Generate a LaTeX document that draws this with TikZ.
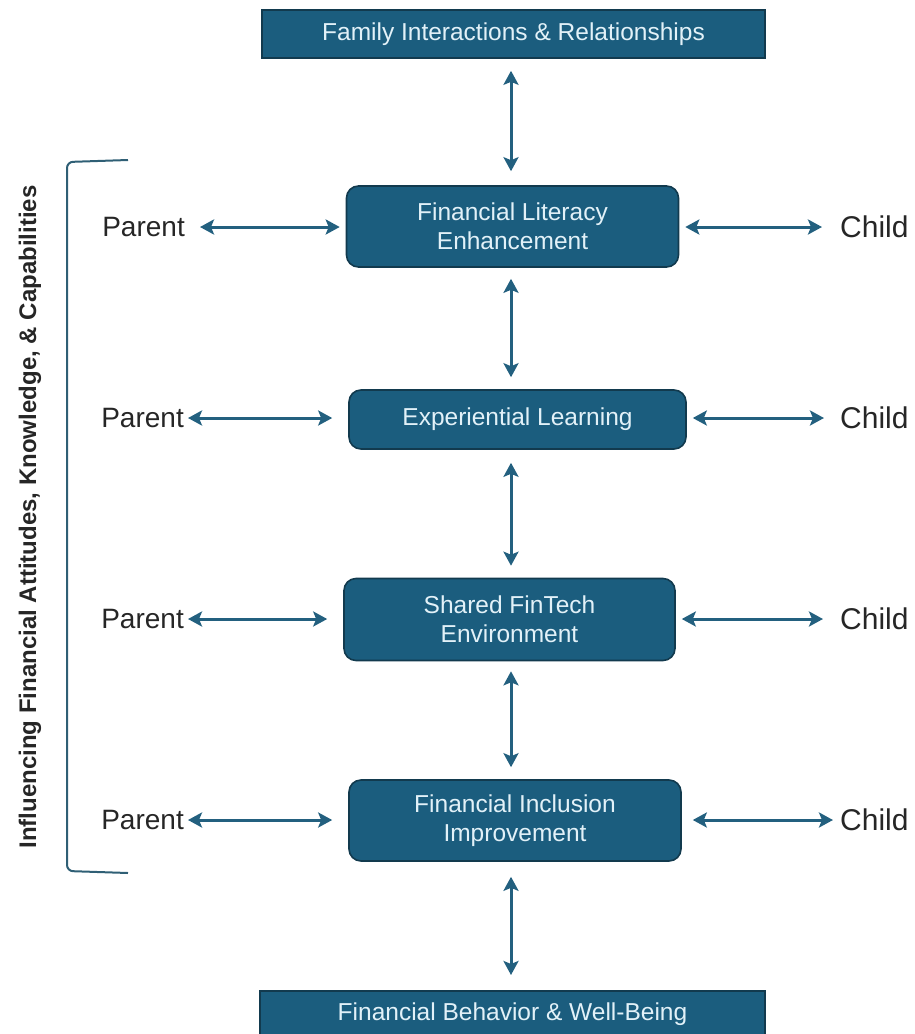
\documentclass[tikz,border=0pt]{standalone}
\usepackage{fontspec}
\setmainfont{Liberation Sans}
\usetikzlibrary{arrows.meta}
\definecolor{boxfill}{HTML}{1B5D7E}
\definecolor{boxline}{HTML}{123A4E}
\definecolor{boxtext}{HTML}{E2F1F8}
\definecolor{arrowc}{HTML}{23607F}
\definecolor{brackc}{HTML}{2F5F75}

\begin{document}
\begin{tikzpicture}[x=1pt,y=-1pt,
		topbox/.style={draw=boxline,fill=boxfill,line width=1.6pt,text=boxtext,
			align=center,font=\fontsize{24.5}{29}\selectfont,inner sep=0pt},
		midbox/.style={topbox,rounded corners=12pt},
		sidetext/.style={font=\fontsize{28}{30}\selectfont,inner sep=0pt,text=black!85},
		biarrow/.style={{Stealth[length=14pt,width=15pt,inset=3pt]}-{Stealth[length=14pt,width=15pt,inset=3pt]},
			line width=3pt,draw=arrowc}
		]
	\useasboundingbox (0,0) rectangle (914,1034);
	\coordinate (ax) at (511,0);
	
	\node[topbox,minimum width=503pt,minimum height=48pt](B0) at (513.5,34){Family Interactions \& Relationships};
	\node[midbox,minimum width=332pt,minimum height=81pt](B1) at (512.5,226.5){Financial Literacy\\Enhancement};
	\node[midbox,minimum width=337pt,minimum height=59pt](B2) at (517.5,419.5){Experiential Learning};
	\node[midbox,minimum width=331pt,minimum height=82pt](B3) at (509.5,619.5){Shared FinTech\\Environment};
	\node[midbox,minimum width=332pt,minimum height=81pt](B4) at (515,820.5){Financial Inclusion\\Improvement};
	\node[topbox,minimum width=505pt,minimum height=56pt,anchor=north](B5) at (512.5,990){\raisebox{14pt}{Financial Behavior \& Well-Being}};
	
	% parents on the left
	\node[sidetext,anchor=east](P1) at (185,227){Parent};
	\node[sidetext,anchor=east](P2) at (184,418){Parent};
	\node[sidetext,anchor=east](P3) at (184,619){Parent};
	\node[sidetext,anchor=east](P4) at (184,820){Parent};
	% children on the right
	\node[sidetext,anchor=west,font=\fontsize{30}{30}\selectfont](C1) at (840,227){Child};
	\node[sidetext,anchor=west,font=\fontsize{30}{30}\selectfont](C2) at (840,418){Child};
	\node[sidetext,anchor=west,font=\fontsize{30}{30}\selectfont](C3) at (840,619){Child};
	\node[sidetext,anchor=west,font=\fontsize{30}{30}\selectfont](C4) at (840,820){Child};
	
	\draw[biarrow,shorten <=15pt,shorten >=6pt] (P1.east) -- (B1.west |- P1.east);
	\draw[biarrow,shorten <=4pt,shorten >=16pt] (P2.east) -- (B2.west |- P2.east);
	\draw[biarrow,shorten <=4pt,shorten >=16pt] (P3.east) -- (B3.west |- P3.east);
	\draw[biarrow,shorten <=4pt,shorten >=16pt] (P4.east) -- (B4.west |- P4.east);
	\draw[biarrow,shorten <=6pt,shorten >=18pt] (B1.east |- C1.west) -- (C1.west);
	\draw[biarrow,shorten <=6pt,shorten >=16pt] (B2.east |- C2.west) -- (C2.west);
	\draw[biarrow,shorten <=6pt,shorten >=17pt] (B3.east |- C3.west) -- (C3.west);
	\draw[biarrow,shorten <=11pt,shorten >=7pt] (B4.east |- C4.west) -- (C4.west);
	
	\draw[biarrow,shorten <=12pt,shorten >=14pt] (B0.south -| ax) -- (B1.north -| ax);
	\draw[biarrow,shorten <=11pt,shorten >=12pt] (B1.south -| ax) -- (B2.north -| ax);
	\draw[biarrow,shorten <=13pt,shorten >=12pt] (B2.south -| ax) -- (B3.north -| ax);
	\draw[biarrow,shorten <=10pt,shorten >=12pt] (B3.south -| ax) -- (B4.north -| ax);
	\draw[biarrow,shorten <=15pt,shorten >=15pt] (B4.south -| ax) -- (B5.north -| ax);
	
	% bracket and its label
	\coordinate (BrT) at (128,160);
	\coordinate (BrB) at (128,873);
	\draw[brackc,line width=2pt,rounded corners=6pt] (BrT) -- (67,162) -- (67,871) -- (BrB);
	\node[rotate=90,font=\bfseries\fontsize{24}{28}\selectfont,text=black!85,inner sep=0pt](Lbl) at (30,517)
		{Influencing Financial Attitudes, Knowledge, \& Capabilities};
\end{tikzpicture}
\end{document}
